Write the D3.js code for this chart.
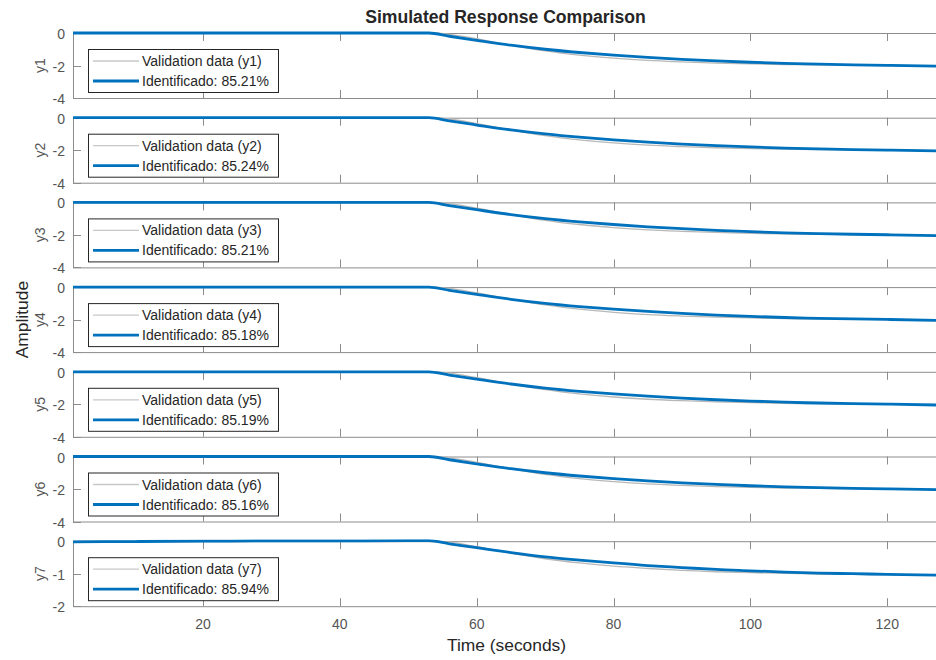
<!DOCTYPE html>
<html>
<head>
<meta charset="utf-8">
<script src="https://cdn.jsdelivr.net/npm/d3@7"></script>
<style>
  html, body { margin: 0; padding: 0; background: #fff; }
  svg { display: block; font-family: "Liberation Sans", Arial, Helvetica, sans-serif; }
</style>
</head>
<body>
<div id="chart"></div>
<script>
// time samples (seconds)
const timeS = [1, 10, 20, 30, 40, 50, 53, 56, 60, 65, 70, 75, 80, 85, 90, 95, 100, 105, 110, 115, 120, 128];

// outputs y1..y6 look the same in the picture
const validationY = [0, 0, 0, 0, 0, 0, 0, -0.08, -0.36, -0.75, -1.1, -1.36, -1.55, -1.69, -1.78, -1.85, -1.9, -1.94, -1.96, -1.98, -2.0, -2.03];
const identifiedY = [0, 0, 0, 0, 0, 0, 0, -0.2, -0.45, -0.75, -1.0, -1.2, -1.36, -1.5, -1.62, -1.72, -1.8, -1.87, -1.92, -1.96, -1.99, -2.05];

// output y7
const validationY7 = [0, 0, 0, 0, 0, 0, 0, -0.03, -0.17, -0.37, -0.54, -0.67, -0.77, -0.84, -0.9, -0.94, -0.97, -0.99, -1.01, -1.02, -1.03, -1.05];
const identifiedY7 = [-0.02, -0.01, 0, 0.01, 0.01, 0.02, 0.02, -0.08, -0.2, -0.35, -0.48, -0.58, -0.67, -0.75, -0.81, -0.87, -0.91, -0.95, -0.98, -1.0, -1.02, -1.05];

const outputNames = ['y1', 'y2', 'y3', 'y4', 'y5', 'y6', 'y7'];
const fitPercent = ['85.21', '85.24', '85.21', '85.18', '85.19', '85.16', '85.94'];
const yTicksMain = [-4, -2, 0];
const yTicks7 = [-2, -1, 0];
const xTicks = [20, 40, 60, 80, 100, 120];

const width = 936, height = 660;
const left = 73, right = 942;
const top0 = 33, panelH = 65, panelStep = 84.7;

const axisColor = '#8c8c8c';
const tickText = '#555';
const blue = '#0072bd';
const gray = '#b8b8b8';

const svg = d3.select('#chart').append('svg')
  .attr('width', width)
  .attr('height', height);

const x = d3.scaleLinear().domain([1, 128]).range([left, right]);

const line = (ys, yScale) => d3.line()
  .x((d, i) => x(timeS[i]))
  .y(d => yScale(d))
  .curve(d3.curveMonotoneX)(ys);

outputNames.forEach((name, k) => {
  const isLast = k === outputNames.length - 1;
  const top = top0 + k * panelStep;
  const yDomain = isLast ? [-2, 0] : [-4, 0];
  const yTicks = isLast ? yTicks7 : yTicksMain;
  const y = d3.scaleLinear().domain(yDomain).range([top + panelH, top]);

  const g = svg.append('g');

  // clip for the curves
  const clipId = 'clip' + k;
  svg.append('clipPath').attr('id', clipId)
    .append('rect')
    .attr('x', left).attr('y', top - 2)
    .attr('width', right - left).attr('height', panelH + 4);

  // box lines
  g.append('line').attr('x1', left).attr('x2', right).attr('y1', top + 0.5).attr('y2', top + 0.5)
    .attr('stroke', axisColor);
  g.append('line').attr('x1', left).attr('x2', right).attr('y1', top + panelH + 0.5).attr('y2', top + panelH + 0.5)
    .attr('stroke', axisColor);
  g.append('line').attr('x1', left + 0.5).attr('x2', left + 0.5).attr('y1', top).attr('y2', top + panelH + 0.5)
    .attr('stroke', axisColor);

  // x ticks top and bottom (inward)
  xTicks.forEach(t => {
    const px = Math.round(x(t)) + 0.5;
    g.append('line').attr('x1', px).attr('x2', px).attr('y1', top).attr('y2', top + 8).attr('stroke', axisColor);
    g.append('line').attr('x1', px).attr('x2', px).attr('y1', top + panelH - 8).attr('y2', top + panelH).attr('stroke', axisColor);
  });

  // y ticks + labels
  yTicks.forEach(v => {
    const py = Math.round(y(v)) + 0.5;
    g.append('line').attr('x1', left).attr('x2', left + 8).attr('y1', py).attr('y2', py).attr('stroke', axisColor);
    g.append('text')
      .attr('x', left - 8).attr('y', py)
      .attr('text-anchor', 'end').attr('dominant-baseline', 'central')
      .attr('font-size', 14).attr('fill', tickText)
      .text(v < 0 ? '-' + Math.abs(v) : v);
  });

  // y label
  g.append('text')
    .attr('transform', `translate(40,${y((yDomain[0] + yDomain[1]) / 2)}) rotate(-90)`)
    .attr('text-anchor', 'middle').attr('dominant-baseline', 'central')
    .attr('font-size', 14).attr('fill', tickText)
    .text(name);

  // curves
  const val = isLast ? validationY7 : validationY;
  const ident = isLast ? identifiedY7 : identifiedY;
  g.append('path').attr('d', line(val, y))
    .attr('clip-path', `url(#${clipId})`)
    .attr('fill', 'none').attr('stroke', gray).attr('stroke-width', 1.3);
  g.append('path').attr('d', line(ident, y))
    .attr('clip-path', `url(#${clipId})`)
    .attr('fill', 'none').attr('stroke', blue).attr('stroke-width', 2.8);

  // legend
  const lg = g.append('g').attr('transform', `translate(88,${top + 16})`);
  lg.append('rect').attr('x', 0.5).attr('y', 0.5).attr('width', 190).attr('height', 43)
    .attr('fill', '#fff').attr('stroke', '#262626').attr('stroke-width', 1);
  lg.append('line').attr('x1', 5).attr('x2', 51).attr('y1', 12).attr('y2', 12)
    .attr('stroke', '#c8c8c8').attr('stroke-width', 1.3);
  lg.append('line').attr('x1', 5).attr('x2', 51).attr('y1', 32).attr('y2', 32)
    .attr('stroke', blue).attr('stroke-width', 2.8);
  lg.append('text').attr('x', 54).attr('y', 12).attr('dominant-baseline', 'central')
    .attr('font-size', 14).attr('fill', '#262626')
    .text(`Validation data (${name})`);
  lg.append('text').attr('x', 54).attr('y', 32).attr('dominant-baseline', 'central')
    .attr('font-size', 14).attr('fill', '#262626')
    .text(`Identificado: ${fitPercent[k]}%`);

  // x tick labels on last panel
  if (isLast) {
    xTicks.forEach(t => {
      g.append('text')
        .attr('x', x(t)).attr('y', top + panelH + 18)
        .attr('text-anchor', 'middle').attr('dominant-baseline', 'central')
        .attr('font-size', 14).attr('fill', tickText)
        .text(t);
    });
  }
});

// title and axis labels
svg.append('text')
  .attr('x', (left + right) / 2 - 2).attr('y', 16.5)
  .attr('text-anchor', 'middle').attr('dominant-baseline', 'central')
  .attr('font-size', 17.6).attr('font-weight', 'bold').attr('fill', '#262626')
  .text('Simulated Response Comparison');

svg.append('text')
  .attr('x', (left + right) / 2 - 1).attr('y', 645)
  .attr('text-anchor', 'middle').attr('dominant-baseline', 'central')
  .attr('font-size', 17.4).attr('fill', '#262626')
  .text('Time (seconds)');

svg.append('text')
  .attr('transform', `translate(28,${(top0 + top0 + 6 * panelStep + panelH) / 2}) rotate(-90)`)
  .attr('text-anchor', 'middle')
  .attr('font-size', 17.4).attr('fill', '#262626')
  .text('Amplitude');
</script>
</body>
</html>
